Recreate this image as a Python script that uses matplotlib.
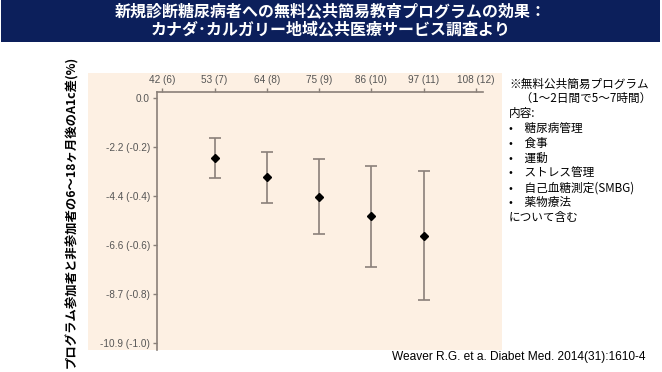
import matplotlib
matplotlib.use("Agg")
from matplotlib import pyplot as plt
from matplotlib.patches import Rectangle

plt.rcParams['font.family'] = ['Noto Sans CJK JP', 'DejaVu Sans']

# data (x in mmol/mol, y in % A1c difference)
x_ticks = [42, 53, 64, 75, 86, 97, 108]
x_labels = ["42 (6)", "53 (7)", "64 (8)", "75 (9)", "86 (10)", "97 (11)", "108 (12)"]
y_ticks = [0.0, -0.2, -0.4, -0.6, -0.8, -1.0]
y_labels = ["0.0", "-2.2 (-0.2)", "-4.4 (-0.4)", "-6.6 (-0.6)", "-8.7 (-0.8)", "-10.9 (-1.0)"]

baseline = [53, 64, 75, 86, 97]
a1c_diff = [-0.246, -0.324, -0.403, -0.483, -0.562]
ci_upper = [-0.165, -0.219, -0.250, -0.278, -0.298]
ci_lower = [-0.325, -0.430, -0.554, -0.689, -0.824]

title = "新規診断糖尿病者への無料公共簡易教育プログラムの効果：\nカナダ･カルガリー地域公共医療サービス調査より"
ylabel = "プログラム参加者と非参加者の6～18ヶ月後のA1c差(%)"
note_lines = ["※無料公共簡易プログラム", "　（1～2日間で5～7時間）", "内容:",
              "•　糖尿病管理", "•　食事", "•　運動", "•　ストレス管理",
              "•　自己血糖測定(SMBG)", "•　薬物療法", "について含む"]
citation = "Weaver R.G. et a. Diabet Med. 2014(31):1610-4"

W, H = 662, 372
fig = plt.figure(figsize=(W / 100, H / 100), dpi=100)
fig.patch.set_facecolor("white")

peach = "#fdf0e3"
axis_col = "#8a8079"
fig.patches.append(Rectangle((88 / W, 1 - 350 / H), (502 - 88) / W, (350 - 73) / H,
                             transform=fig.transFigure, facecolor=peach, edgecolor="none", zorder=-2))
fig.patches.append(Rectangle((1 / W, 1 - 42 / H), 659 / W, 42 / H,
                             transform=fig.transFigure, facecolor="#0c1f5b", edgecolor="none", zorder=-2))
fig.text(0.5, 1 - 21 / H, title, color="white", fontsize=11.5, fontweight="bold",
         ha="center", va="center", linespacing=1.25)

ax = fig.add_axes([157 / W, 1 - 350 / H, (483 - 157) / W, (350 - 92) / H])
ax.set_facecolor(peach)
yerr = [[m - lo for m, lo in zip(a1c_diff, ci_lower)], [hi - m for m, hi in zip(a1c_diff, ci_upper)]]
ax.errorbar(baseline, a1c_diff, yerr=yerr, fmt="none", ecolor="#8a807a", elinewidth=1.2,
            capsize=4, capthick=1.2)
ax.plot(baseline, a1c_diff, "D", color="black", markersize=4, zorder=3)

ax.set_xlim(40.9, 109.5)
ax.set_ylim(-1.0286, 0.0245)
ax.xaxis.tick_top()
ax.set_xticks(x_ticks)
ax.set_xticklabels(x_labels, family="Liberation Sans", fontsize=7.2, color="#555555")
ax.set_yticks(y_ticks)
ax.set_yticklabels(y_labels, family="Liberation Sans", fontsize=7.2, color="#555555")
ax.tick_params(axis="both", length=3, width=1, color=axis_col, pad=2)
for side in ["right", "bottom"]:
    ax.spines[side].set_visible(False)
for side in ["left", "top"]:
    ax.spines[side].set_color(axis_col)
    ax.spines[side].set_linewidth(1.2)

fig.text(72 / W, 1 - 212 / H, ylabel, rotation=90, fontsize=8.9, fontweight="bold",
         ha="center", va="center")

for i, line in enumerate(note_lines):
    fig.text(509 / W, 1 - (84 + i * 14.8) / H, line, fontsize=8.4, ha="left", va="center")

fig.text(646 / W, 1 - 357 / H, citation, family="Liberation Sans", fontsize=8.6,
         ha="right", va="center")

fig.savefig("out.png", dpi=100)
